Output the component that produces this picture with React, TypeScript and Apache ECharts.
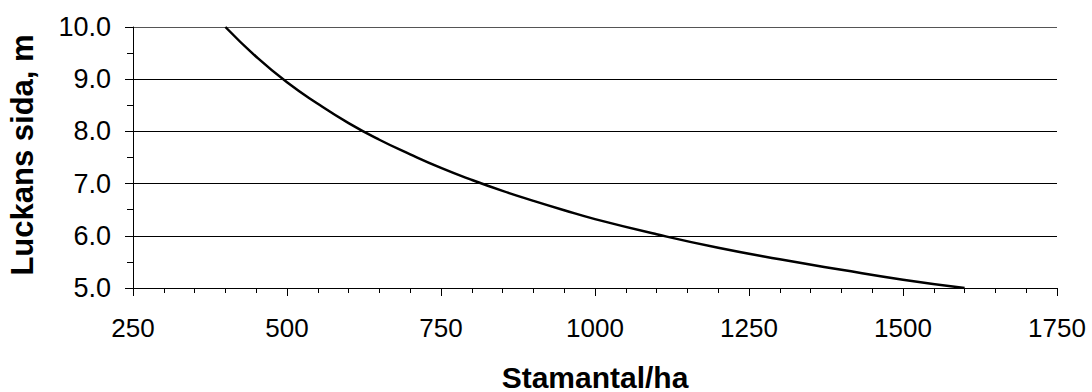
import React, { useEffect, useRef } from "react";
import * as echarts from "echarts";

const stems = [400, 450, 500, 550, 600, 650, 700, 750, 800, 850, 900, 950, 1000, 1100, 1200, 1300, 1400, 1500, 1600];
const side = [10.0, 9.43, 8.94, 8.53, 8.16, 7.84, 7.56, 7.3, 7.07, 6.86, 6.67, 6.49, 6.32, 6.03, 5.77, 5.55, 5.35, 5.16, 5.0];
const xTitle = "Stamantal/ha";
const yTitle = "Luckans sida, m";

export default function App() {
  const ref = useRef<HTMLDivElement>(null);
  useEffect(() => {
    if (!ref.current) return;
    const chart = echarts.init(ref.current, undefined, { renderer: "svg" });
    const font = "'Liberation Sans', Arial, sans-serif";
    chart.setOption({
      animation: false,
      backgroundColor: "#fff",
      grid: { left: 133, right: 35, top: 27, bottom: 104, containLabel: false },
      xAxis: {
        type: "value",
        min: 250,
        max: 1750,
        interval: 250,
        axisLine: { show: true, lineStyle: { color: "#000", width: 1 } },
        axisTick: { show: true, length: 8, lineStyle: { color: "#000" } },
        minorTick: { show: true, splitNumber: 5, length: 5, lineStyle: { color: "#000" } },
        splitLine: { show: false },
        axisLabel: {
          fontFamily: font,
          fontSize: 26,
          color: "#000",
          margin: 27,
          formatter: (v: number) => String(v),
        },
      },
      yAxis: {
        type: "value",
        min: 5,
        max: 10,
        interval: 1,
        axisLine: { show: true, lineStyle: { color: "#000", width: 1 } },
        axisTick: { show: true, length: 8, lineStyle: { color: "#000" } },
        minorTick: { show: true, splitNumber: 2, length: 6, lineStyle: { color: "#000" } },
        splitLine: { show: true, lineStyle: { color: ["#000", "#000", "#000", "#000", "#000", "#555"], width: 1 } },
        axisLabel: {
          fontFamily: font,
          fontSize: 27,
          color: "#000",
          margin: 22,
          formatter: (v: number) => v.toFixed(1),
        },
      },
      graphic: [
        {
          type: "text",
          x: 595,
          y: 377,
          style: {
            text: xTitle,
            font: `bold 30px ${font}`,
            fill: "#000",
            textAlign: "center",
            textVerticalAlign: "middle",
          },
        },
        {
          type: "text",
          x: 22,
          y: 155,
          rotation: Math.PI / 2,
          style: {
            text: yTitle,
            font: `bold 31px ${font}`,
            fill: "#000",
            textAlign: "center",
            textVerticalAlign: "middle",
          },
        },
      ],
      series: [
        {
          type: "line",
          data: stems.map((x, i) => [x, side[i]]),
          smooth: true,
          showSymbol: false,
          lineStyle: { color: "#000", width: 2.5 },
        },
      ],
    });
    return () => chart.dispose();
  }, []);
  return <div ref={ref} style={{ width: 1092, height: 392, position: "absolute", left: 0, top: 0 }} />;
}
